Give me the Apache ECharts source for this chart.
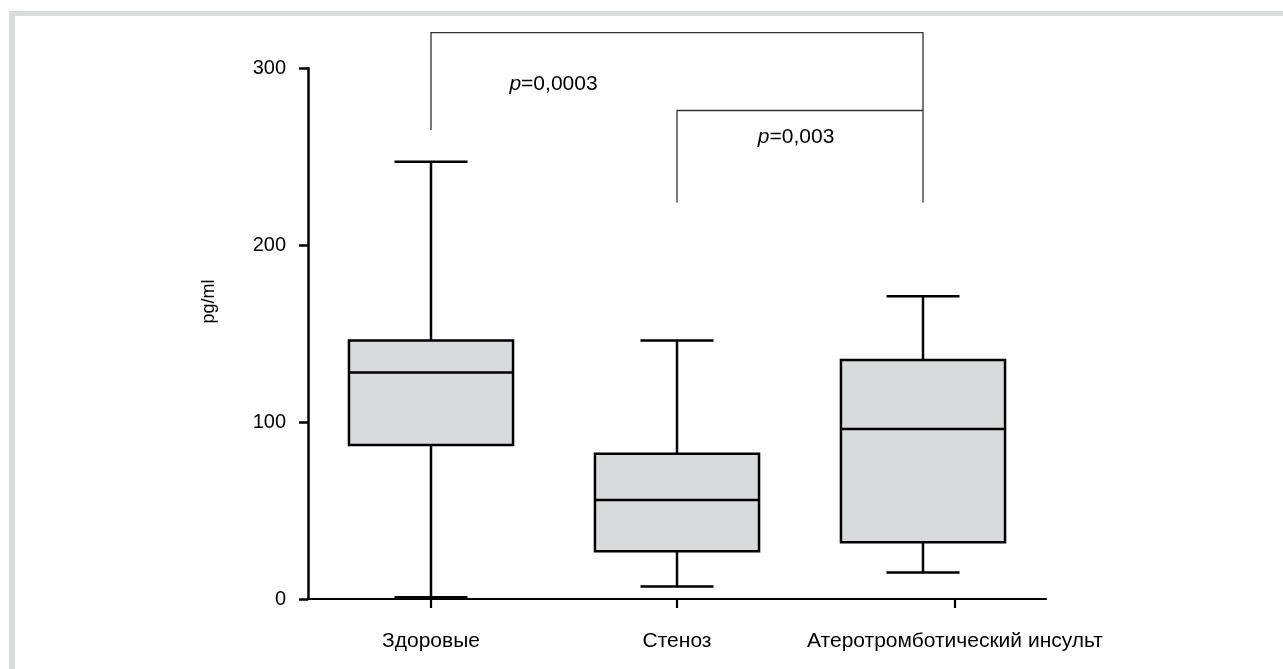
<!DOCTYPE html>
<html>
<head>
<meta charset="utf-8">
<script src="https://cdn.jsdelivr.net/npm/echarts@6/dist/echarts.min.js"></script>
<style>
  html, body { margin: 0; padding: 0; background: #fff; }
  #chart { width: 1283px; height: 669px; }
</style>
</head>
<body>
<div id="chart"></div>
<script>
// data
const categories = ['Здоровые', 'Стеноз', 'Атеротромботический инсульт'];
const whiskerLow = [1, 7, 15];
const q1 = [87, 27, 32];
const median = [128, 56, 96];
const q3 = [146, 82, 135];
const whiskerHigh = [247, 146, 171];
// where the original puts the x tick marks / labels (third one sits right of its box)
const xTickAt = [0, 1, 2.13];

// significance brackets
const bracketFrom = [0, 1];
const bracketTo = [2, 2];
const bracketTop = [320, 276];
const bracketLeftEnd = [265, 224];
const bracketRightEnd = [276, 224];
const pValues = ['0,0003', '0,003'];
const pLabelValue = [291, 261];
const pLabelShift = [0.249, 0.484];

const FONT = "'Liberation Sans', Arial, sans-serif";
const boxData = categories.map((c, i) => [i, whiskerLow[i], q1[i], median[i], q3[i], whiskerHigh[i]]);
const bracketData = bracketFrom.map((f, i) => [f, bracketTo[i], bracketTop[i], bracketLeftEnd[i], bracketRightEnd[i], i]);

function renderBox(params, api) {
    var i = api.value(0);
    var unit = api.size([1, 0])[0];
    var bw = unit * 0.667, cw = bw * 0.445;
    var x = api.coord([i, 0])[0];
    var y = [1, 2, 3, 4, 5].map(function (d) { return api.coord([i, api.value(d)])[1]; });
    var ln = { stroke: '#000', lineWidth: 2.5 };
    return {
        type: 'group',
        children: [
            { type: 'line', shape: { x1: x, y1: y[0], x2: x, y2: y[1] }, style: ln },
            { type: 'line', shape: { x1: x, y1: y[3], x2: x, y2: y[4] }, style: ln },
            { type: 'line', shape: { x1: x - cw / 2, y1: y[0], x2: x + cw / 2, y2: y[0] }, style: ln },
            { type: 'line', shape: { x1: x - cw / 2, y1: y[4], x2: x + cw / 2, y2: y[4] }, style: ln },
            { type: 'rect', shape: { x: x - bw / 2, y: y[3], width: bw, height: y[1] - y[3] },
              style: { fill: '#d8dbdb', stroke: '#000', lineWidth: 2.5 } },
            { type: 'line', shape: { x1: x - bw / 2, y1: y[2], x2: x + bw / 2, y2: y[2] }, style: ln }
        ]
    };
}

function renderBracket(params, api) {
    var k = api.value(5);
    var a = api.coord([api.value(0), api.value(2)]);
    var b = api.coord([api.value(1), api.value(2)]);
    var yl = api.coord([api.value(0), api.value(3)])[1];
    var yr = api.coord([api.value(1), api.value(4)])[1];
    var ty = api.coord([0, pLabelValue[k]])[1];
    var tx = a[0] + (b[0] - a[0]) * pLabelShift[k];
    return {
        type: 'group',
        children: [
            { type: 'polyline', shape: { points: [[a[0], yl], [a[0], a[1]], [b[0], b[1]], [b[0], yr]] },
              style: { stroke: '#333', lineWidth: 1.3, fill: null } },
            { type: 'text', x: tx, y: ty,
              style: { text: '{i|p}=' + pValues[k], align: 'center', verticalAlign: 'middle',
                       fontFamily: FONT, fontSize: 21, fill: '#000',
                       rich: { i: { fontStyle: 'italic', fontFamily: FONT, fontSize: 21 } } } }
        ]
    };
}

var chart = echarts.init(document.getElementById('chart'), null, { renderer: 'canvas' });
var option = {
    backgroundColor: '#fff',
    animation: false,
    textStyle: { fontFamily: FONT },
    graphic: [
        { type: 'rect', shape: { x: 9, y: 11, width: 1274, height: 5 }, style: { fill: '#d9dcdc' } },
        { type: 'rect', shape: { x: 9, y: 11, width: 6, height: 658 }, style: { fill: '#d9dcdc' } }
    ],
    grid: { left: 308, right: 237, top: 68, bottom: 70 },
    xAxis: {
        type: 'value',
        min: -0.5, max: 2.5,
        axisLine: { onZero: false, lineStyle: { color: '#000', width: 2.2 } },
        axisTick: { show: true, customValues: xTickAt, length: 9, lineStyle: { color: '#000', width: 2.2 } },
        axisLabel: {
            customValues: xTickAt, color: '#000', fontSize: 21, margin: 32, fontFamily: FONT,
            formatter: function (v) { return categories[Math.round(v)] || ''; }
        },
        splitLine: { show: false }
    },
    yAxis: {
        type: 'value',
        min: 0, max: 300, interval: 100,
        name: 'pg/ml',
        nameLocation: 'middle',
        nameGap: 90,
        nameTextStyle: { color: '#000', fontSize: 18, fontFamily: FONT, padding: [0, 0, 0, 64] },
        axisLine: { show: true, onZero: false, lineStyle: { color: '#000', width: 2.5 } },
        axisTick: { show: true, length: 9, lineStyle: { color: '#000', width: 2.5 } },
        axisLabel: { color: '#000', fontSize: 20, margin: 22, fontFamily: FONT },
        splitLine: { show: false }
    },
    series: [
        { type: 'custom', renderItem: renderBox, data: boxData, clip: false,
          encode: { x: 0, y: [1, 2, 3, 4, 5] }, z: 3 },
        { type: 'custom', renderItem: renderBracket, data: bracketData, clip: false,
          encode: { x: [0, 1], y: [2, 3, 4] }, z: 4 }
    ]
};
chart.setOption(option);
</script>
</body>
</html>
